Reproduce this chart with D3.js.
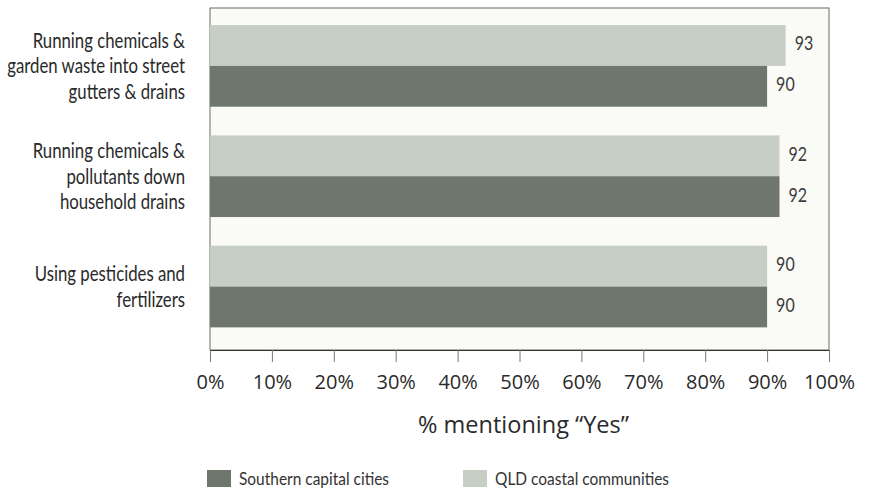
<!DOCTYPE html>
<html>
<head>
<meta charset="utf-8">
<script src="https://cdn.jsdelivr.net/npm/d3@7"></script>
<style>
  html, body { margin: 0; padding: 0; background: #ffffff; }
  svg { display: block; }
</style>
</head>
<body>
<svg id="chart" width="869" height="492"></svg>
<script>
// Behaviours named in the survey, one row each (label lines split for wrapping)
const categories = [
  ["Running chemicals &", "garden waste into street", "gutters & drains"],
  ["Running chemicals &", "pollutants down", "household drains"],
  ["Using pesticides and", "fertilizers"]
];
const seriesNames = ["QLD coastal communities", "Southern capital cities"];
const qldValues = [93, 92, 90];
const southernValues = [90, 92, 90];
const tickValues = [0, 10, 20, 30, 40, 50, 60, 70, 80, 90, 100];
const axisTitle = "% mentioning \u201CYes\u201D";
const legendOrder = ["Southern capital cities", "QLD coastal communities"];

const colors = {
  "QLD coastal communities": "#c7cec4",
  "Southern capital cities": "#6f776d"
};

const svg = d3.select("#chart");
// narrow labels: a regular face squeezed horizontally
const narrowFont = "Lato, 'Noto Sans', sans-serif";
const regular = "'Open Sans', 'Noto Sans', sans-serif";

const plot = { left: 210, right: 829, top: 8, bottom: 350 };

const x = d3.scaleLinear().domain([0, 100]).range([plot.left, plot.right]);
const y = d3.scaleBand()
  .domain(d3.range(categories.length))
  .range([plot.top, plot.bottom])
  .paddingInner(0.26)
  .paddingOuter(0.18)
  .align(0.43);
const ySeries = d3.scaleBand()
  .domain(seriesNames)
  .range([0, y.bandwidth()]);

// draws a horizontally squeezed text anchored at (px, py)
function narrowText(parent, px, py, anchor, size, fill, squeeze) {
  return parent.append("g")
    .attr("transform", `translate(${px},${py}) scale(${squeeze},1)`)
    .append("text")
    .attr("text-anchor", anchor)
    .attr("font-family", narrowFont)
    .attr("font-size", size)
    .attr("fill", fill);
}

// plot background and frame
svg.append("rect")
  .attr("x", plot.left).attr("y", plot.top)
  .attr("width", plot.right - plot.left).attr("height", plot.bottom - plot.top)
  .attr("fill", "#fafaf7")
  .attr("stroke", "#6a6a6a").attr("stroke-width", 1);

// bars
const rows = categories.map((c, i) => ({
  i,
  values: [
    { name: seriesNames[0], v: qldValues[i] },
    { name: seriesNames[1], v: southernValues[i] }
  ]
}));

const groups = svg.append("g").selectAll("g")
  .data(rows).join("g")
  .attr("transform", d => `translate(0,${y(d.i)})`);

groups.selectAll("rect")
  .data(d => d.values).join("rect")
  .attr("x", x(0))
  .attr("y", d => ySeries(d.name))
  .attr("width", d => x(d.v) - x(0))
  .attr("height", ySeries.bandwidth())
  .attr("fill", d => colors[d.name]);

groups.each(function(d) {
  const g = d3.select(this);
  d.values.forEach(s => {
    narrowText(g, x(s.v) + 9, ySeries(s.name) + ySeries.bandwidth() / 2 - 2, "start", 20, "#3a3a3a", 0.8)
      .attr("dy", "0.35em")
      .text(s.v);
  });
});

// category labels
const catG = svg.append("g");
categories.forEach((lines, i) => {
  const cy = y(i) + y.bandwidth() / 2;
  const lh = 25.5;
  lines.forEach((ln, k) => {
    narrowText(catG, 185, cy + (k - (lines.length - 1) / 2) * lh, "end", 21.5, "#2a2a2a", 0.78)
      .attr("dy", "0.35em")
      .text(ln);
  });
});

// x axis
const xAxis = d3.axisBottom(x)
  .tickValues(tickValues)
  .tickFormat(d => d + "%")
  .tickSize(12)
  .tickPadding(13)
  .tickSizeOuter(0);

const ax = svg.append("g")
  .attr("transform", `translate(0,${plot.bottom})`)
  .call(xAxis);
ax.select(".domain").attr("stroke", "#333").attr("stroke-width", 1.2);
ax.selectAll(".tick line").attr("stroke", "#777");
ax.selectAll(".tick text")
  .attr("font-family", regular)
  .attr("font-size", 20)
  .attr("fill", "#2a2a2a");

svg.append("text")
  .attr("x", (plot.left + plot.right) / 2 + 4)
  .attr("y", 433)
  .attr("text-anchor", "middle")
  .attr("font-family", regular)
  .attr("font-size", 23.5)
  .attr("fill", "#2a2a2a")
  .text(axisTitle);

// legend
const legendX = [207, 463];
const lg = svg.append("g");
legendOrder.forEach((name, i) => {
  lg.append("rect")
    .attr("x", legendX[i]).attr("y", 470)
    .attr("width", 24).attr("height", 17)
    .attr("fill", colors[name]);
  narrowText(lg, legendX[i] + 32, 479, "start", 18, "#333", 0.86)
    .attr("dy", "0.35em")
    .text(name);
});
</script>
</body>
</html>
